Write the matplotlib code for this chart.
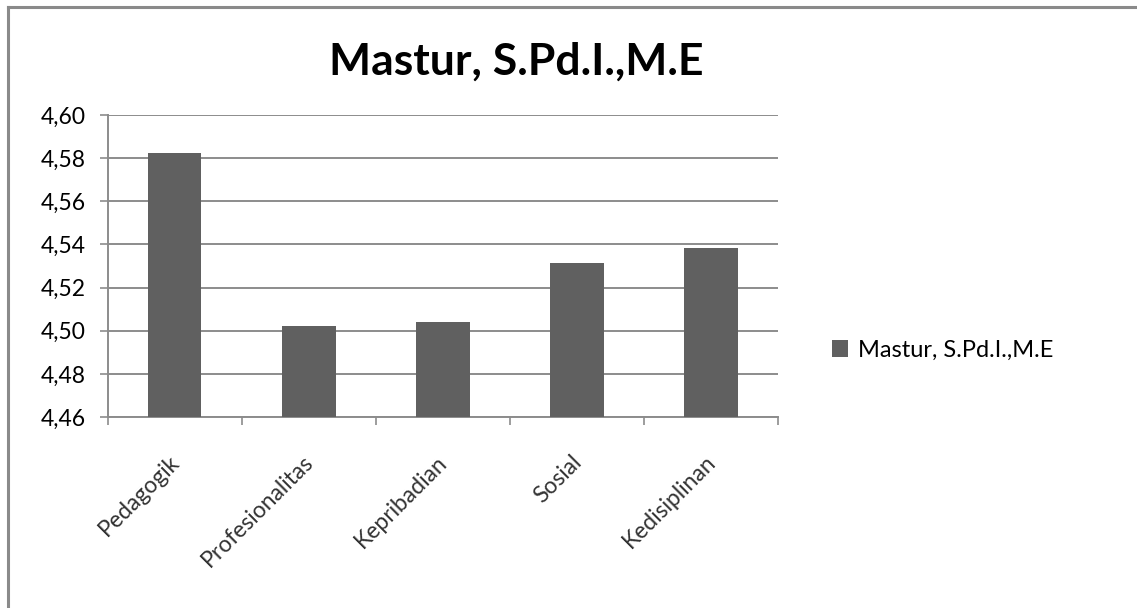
import numpy as np
import matplotlib.pyplot as plt
from matplotlib.ticker import FuncFormatter

plt.rcParams['font.family'] = ['Lato', 'DejaVu Sans']

# data
title = 'Mastur, S.Pd.I.,M.E'
categories = ['Pedagogik', 'Profesionalitas', 'Kepribadian', 'Sosial', 'Kedisiplinan']
values = [4.5823, 4.5023, 4.5039, 4.5313, 4.5385]
y_ticks = [4.46, 4.48, 4.50, 4.52, 4.54, 4.56, 4.58, 4.60]

bar_color = '#606060'
grid_color = '#8c8c8c'

fig = plt.figure(figsize=(11.37, 6.08), dpi=100)
ax = fig.add_axes([0.0947, 0.3141, 0.5894, 0.4968])

x = np.arange(len(categories)) + 0.5
ax.bar(x, values, width=0.4, color=bar_color, zorder=3, label=title)

ax.set_xlim(0, len(categories))
ax.set_ylim(y_ticks[0], y_ticks[-1])
ax.set_yticks(y_ticks)
ax.yaxis.set_major_formatter(FuncFormatter(lambda v, p: ('%.2f' % v).replace('.', ',')))
ax.grid(axis='y', color=grid_color, linewidth=1.4, zorder=0)

# ticks on category boundaries, labels drawn under the centres
ax.set_xticks(np.arange(len(categories) + 1))
ax.set_xticklabels([])
ax.tick_params(axis='x', which='major', length=6, width=1.2, color=grid_color)
ax.tick_params(axis='y', length=6, width=1.2, color=grid_color, labelsize=16.5, pad=10)
for xi, name in zip(x, categories):
    ax.annotate(name, xy=(xi, 0), xycoords=('data', 'axes fraction'),
                xytext=(1, -30), textcoords='offset points',
                rotation=45, rotation_mode='anchor', ha='right', va='center',
                fontsize=16.5, color='#333333')

for s in ['top', 'right']:
    ax.spines[s].set_visible(False)
for s in ['left', 'bottom']:
    ax.spines[s].set_color(grid_color)
    ax.spines[s].set_linewidth(1.4)

fig.text(0.454, 0.8766, title, ha='center', va='baseline', fontsize=32, fontweight='bold')

fig.legend(loc='center left', bbox_to_anchor=(0.713, 0.4243), frameon=False,
           fontsize=17, handlelength=0.7, handleheight=0.7, handletextpad=0.4)

# chart frame: only top and left edges visible
fig.add_artist(plt.Line2D([0.0066, 1.0], [0.9885, 0.9885], color='#8a8a8a', linewidth=2.2))
fig.add_artist(plt.Line2D([0.0066, 0.0066], [0.0, 0.9885], color='#8a8a8a', linewidth=2.2))

fig.savefig('out.png', dpi=100, facecolor='white')
